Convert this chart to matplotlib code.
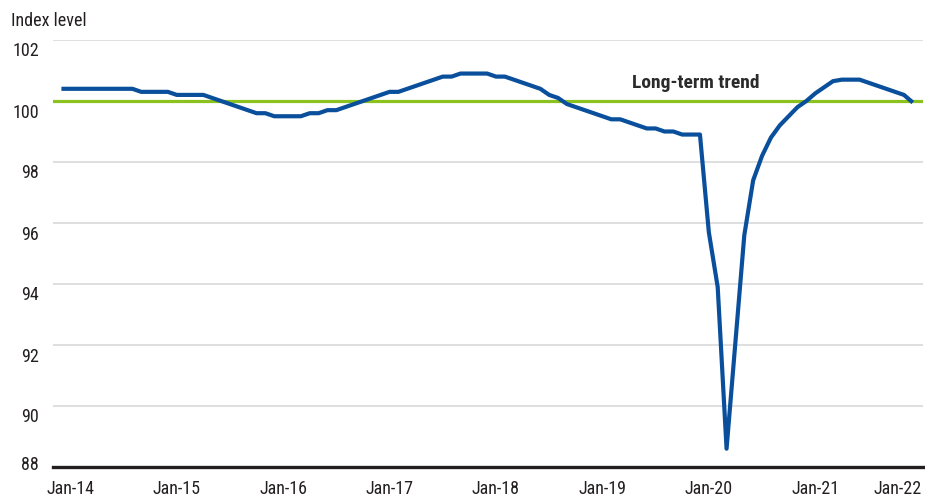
import numpy as np
import matplotlib
matplotlib.use("Agg")
import matplotlib.pyplot as plt
from matplotlib import font_manager as fm
from matplotlib.transforms import ScaledTranslation

# ---- data ----
index_values = (
    [100.4] * 9 +
    [100.3] * 4 +
    [100.2] * 4 +
    [100.1, 100.0, 99.9, 99.8, 99.7, 99.6, 99.6] +
    [99.5] * 4 +
    [99.6, 99.6, 99.7, 99.7] +
    [99.8, 99.9, 100.0, 100.1, 100.2, 100.3, 100.3] +
    [100.4, 100.5, 100.6, 100.7, 100.8, 100.8] +
    [100.9] * 4 +
    [100.8, 100.8] +
    [100.7, 100.6, 100.5, 100.4, 100.2, 100.1, 99.9, 99.8, 99.7, 99.6, 99.5,
     99.4, 99.4, 99.3, 99.2, 99.1, 99.1, 99.0, 99.0, 98.9, 98.9, 98.9] +
    [95.7, 93.9, 88.6, 92.1, 95.6, 97.4, 98.2, 98.8, 99.2, 99.5, 99.8, 100.0,
     100.25, 100.45, 100.65, 100.7, 100.7, 100.7, 100.6, 100.5, 100.4, 100.3,
     100.2, 99.95]
)
months = np.arange(len(index_values))  # Jan-14 .. Jan-22
trend_level = 100
x_tick_labels = ["Jan-14", "Jan-15", "Jan-16", "Jan-17", "Jan-18",
                 "Jan-19", "Jan-20", "Jan-21", "Jan-22"]
x_tick_pos = [1, 13, 25, 37, 49, 61, 73, 85, 94.3]
y_ticks = [88, 90, 92, 94, 96, 98, 100, 102]

# ---- font ----
names = {f.name for f in fm.fontManager.ttflist}
stretch = "normal"
if "Roboto Condensed" in names:
    fam = "Roboto Condensed"
elif "Liberation Sans Narrow" in names:
    fam = "Liberation Sans Narrow"
else:
    fam = "DejaVu Sans"
    stretch = "condensed"
plt.rcParams["font.family"] = [fam, "DejaVu Sans"]
plt.rcParams["font.stretch"] = stretch

TEXT = "#231f20"
BLUE = "#0a4f9c"
GREEN = "#8cc21f"
GRID = "#d9d9d9"

fig = plt.figure(figsize=(9.25, 5), dpi=100)
ax = fig.add_axes([53 / 925, 1 - 467 / 500, (923 - 53) / 925, (467 - 40) / 500])

ax.set_xlim(-0.95, 97.15)
ax.set_ylim(88, 102)

ax.set_yticks(y_ticks)
ax.grid(axis="y", color=GRID, linewidth=1.2)
ax.set_axisbelow(True)
for s in ["top", "right", "left"]:
    ax.spines[s].set_visible(False)
ax.spines["bottom"].set_color(TEXT)
ax.spines["bottom"].set_linewidth(2.4)
ax.spines["bottom"].set_zorder(5)

ax.axhline(trend_level, color=GREEN, linewidth=2.3, zorder=3)
ax.plot(months, index_values, color=BLUE, linewidth=3.0, zorder=4,
        solid_joinstyle="round", solid_capstyle="butt")

ax.text(64.3, 100.6, "Long-term trend", fontsize=14, fontweight="bold",
        color="#2b2b2b", va="center", ha="left")

ax.set_xticks(x_tick_pos)
ax.set_xticklabels(x_tick_labels)
ax.tick_params(axis="x", length=0, pad=9, labelsize=13, labelcolor=TEXT)
ax.tick_params(axis="y", length=0, pad=10, labelsize=13, labelcolor=TEXT)
ax.set_yticklabels([str(v) for v in y_ticks])

ticks = ax.yaxis.get_major_ticks()
for t, v in zip(ticks, y_ticks):
    dy = 3.5 if v == 88 else -9.5
    t.label1.set_transform(t.label1.get_transform() +
                           ScaledTranslation(0, dy / 100, fig.dpi_scale_trans))

fig.text(11 / 925, 1 - 21 / 500, "Index level", fontsize=13, color=TEXT,
         ha="left", va="center")

fig.savefig("out.png", dpi=100)
